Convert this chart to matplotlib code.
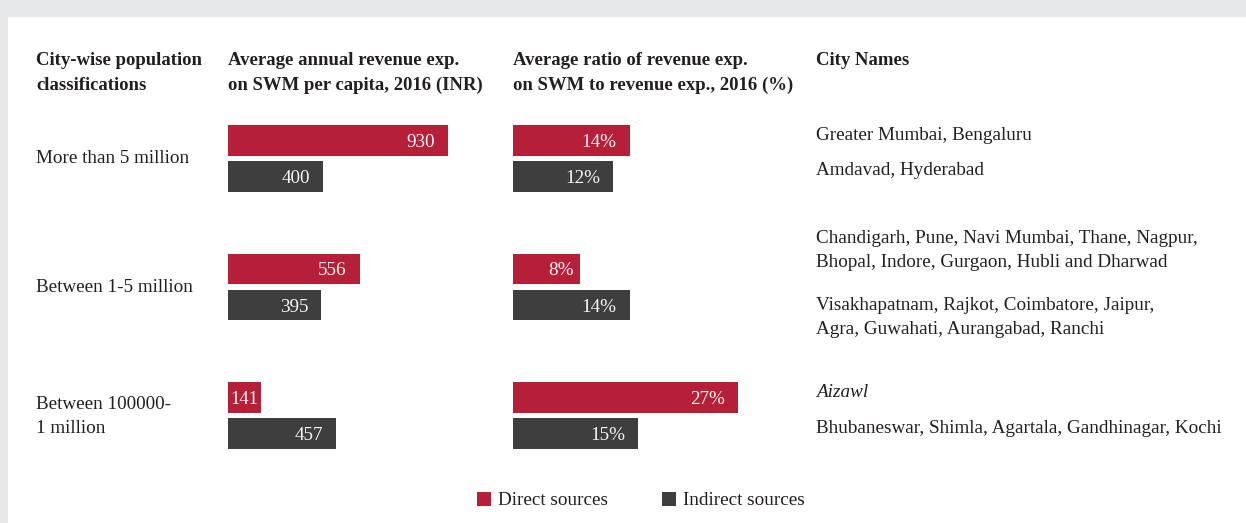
import matplotlib.pyplot as plt
from matplotlib.patches import Rectangle

W, H = 1246, 523
DPI = 100

RED = "#b51f38"
DARK = "#3e3e3e"
TXT = "#231f20"
GREY = "#e6e7e8"

groups = ["More than 5 million", "Between 1-5 million", "Between 100000-\n1 million"]
revenue_direct = [930, 556, 141]
revenue_indirect = [400, 395, 457]
ratio_direct = [14, 8, 27]
ratio_indirect = [12, 14, 15]

headers = [
    ("City-wise population\nclassifications", 36),
    ("Average annual revenue exp.\non SWM per capita, 2016 (INR)", 228),
    ("Average ratio of revenue exp.\non SWM to revenue exp., 2016 (%)", 513),
    ("City Names", 816),
]

cities = [
    ("Greater Mumbai, Bengaluru", 140, "normal"),
    ("Amdavad, Hyderabad", 175, "normal"),
    ("Chandigarh, Pune, Navi Mumbai, Thane, Nagpur,", 243, "normal"),
    ("Bhopal, Indore, Gurgaon, Hubli and Dharwad", 267, "normal"),
    ("Visakhapatnam, Rajkot, Coimbatore, Jaipur,", 310, "normal"),
    ("Agra, Guwahati, Aurangabad, Ranchi", 334, "normal"),
    ("Aizawl", 397, "italic"),
    ("Bhubaneswar, Shimla, Agartala, Gandhinagar, Kochi", 433, "normal"),
]

plt.rcParams["font.family"] = ["Liberation Serif", "DejaVu Serif"]
FS = 13.8

fig = plt.figure(figsize=(W / DPI, H / DPI), dpi=DPI)
fig.patch.set_facecolor(GREY)
fig.patches.append(Rectangle((8 / W, 0), 1, 1 - 17 / H, transform=fig.transFigure,
                             facecolor="white", edgecolor="none", zorder=-5))


def fx(x):
    return x / W


def fy(y):
    return 1 - y / H


def text(x, y, s, **kw):
    kw.setdefault("fontsize", FS)
    kw.setdefault("color", TXT)
    fig.text(fx(x), fy(y), s, va="baseline", ha="left", **kw)


# headers, one line at a time
for label, x in headers:
    for i, line in enumerate(label.split("\n")):
        text(x, 65 + 25 * i, line, fontweight="bold", fontsize=13.5)

# row labels
row_base = [163, 292, 409]
for label, y in zip(groups, row_base):
    for i, line in enumerate(label.split("\n")):
        text(36, y + 24 * i, line)

for name, y, style in cities:
    text(816, y, name, style=style)

# bar panels: 1 y-unit = 128.7 px, axes span pixel rows 94..480
top, bottom = 94, 480
ypos = list(range(len(groups)))
off, bh = 0.14, 0.24


def panel(left, width, xmax, direct, indirect, fmt):
    ax = fig.add_axes([fx(left), fy(bottom), width / W, (bottom - top) / H])
    ax.set_zorder(2)
    ax.patch.set_alpha(0)
    ax.set_xlim(0, xmax)
    ax.set_ylim(len(groups) - 0.5, -0.5)
    ax.axis("off")
    ax.barh([p - off for p in ypos], direct, height=bh, color=RED, linewidth=0)
    ax.barh([p + off for p in ypos], indirect, height=bh, color=DARK, linewidth=0)
    pxu = width / xmax
    for vals, o in ((direct, -off), (indirect, off)):
        for p, v in zip(ypos, vals):
            w = v * pxu
            if w < 50:
                ax.text(v / 2, p + o, fmt(v), ha="center", va="center_baseline",
                        color="#f4f4f4", fontsize=FS - 0.5)
                continue
            pad = 13 if w > 80 else 6
            ax.annotate(fmt(v), (v, p + o), xytext=(-pad, 0), textcoords="offset pixels",
                        ha="right", va="center_baseline", color="#f4f4f4", fontsize=FS)
    return ax


panel(228, 236.6, 1000, revenue_direct, revenue_indirect, lambda v: f"{v}")
panel(513, 250, 30, ratio_direct, ratio_indirect, lambda v: f"{v}%")

# legend
for x, col, lab in ((477, RED, "Direct sources"), (662, DARK, "Indirect sources")):
    fig.patches.append(Rectangle((fx(x), fy(506)), 14 / W, 14 / H, transform=fig.transFigure,
                                 facecolor=col, edgecolor="none"))
    text(x + 21, 505, lab)

fig.savefig("out.png", dpi=DPI, facecolor=GREY)
